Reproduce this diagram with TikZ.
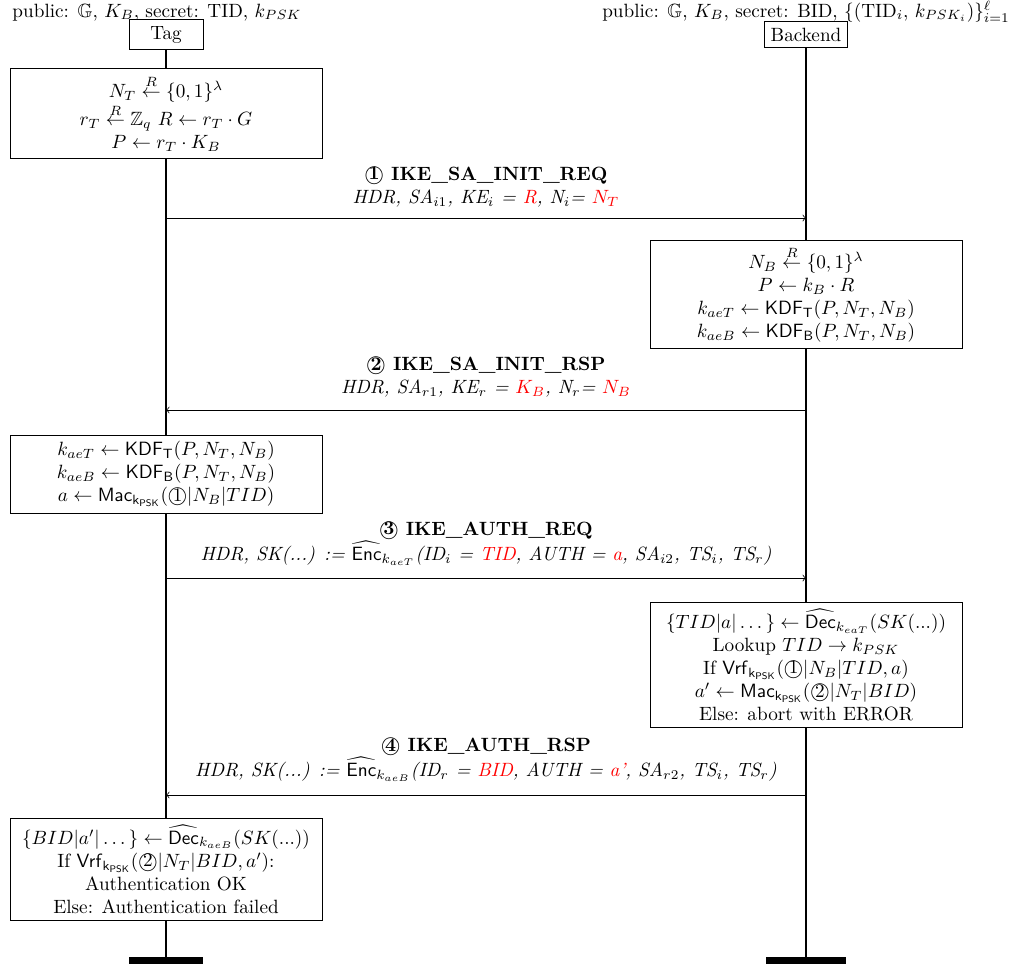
\documentclass[tikz,border=0pt]{standalone}
\usepackage{amsmath,amssymb}
\begin{document}
\begin{tikzpicture}[x=0.5208pt,y=-0.5208pt,
  inst/.style={draw,fill=white,inner sep=3.33pt},
  act/.style={draw,fill=white,align=center,minimum width=162.5pt},
  bar/.style={fill=black,inner sep=0pt,minimum height=3.6pt},
  msg/.style={align=center}]
\useasboundingbox (0,0) rectangle (1016,969);
\node[anchor=base] (tagpub) at (157,17) {public: $\mathbb{G}$, $K_B$, secret: TID, $k_{PSK}$};
\node[anchor=base] (backpub) at (806,17) {public: $\mathbb{G}$, $K_B$, secret: BID, $\{(\mathrm{TID}_i,\, k_{PSK_i})\}_{i=1}^{\ell}$};
\node[inst,minimum width=38.5pt] (tag) at (166,34.5) {Tag};
\node[inst] (backend) at (806,34.5) {Backend};
\node[bar,minimum width=38.5pt] (tagend) at (166,960.5) {};
\node[bar,minimum width=41.7pt] (backend end) at (806,960.5) {};
\draw[thick] (tag) -- (tagend);
\draw[thick] (backend) -- (backend end);

\node[act,minimum height=41.1pt] (tstep1) at (166,113.5) {$N_T \stackrel{R}{\leftarrow} \{0,1\}^\lambda$\\
  $r_T \stackrel{R}{\leftarrow} \mathbb{Z}_q$ $R \leftarrow r_T \cdot G$\\
  $P \leftarrow r_T \cdot K_B$};
\coordinate (m1a) at (166,218);
\coordinate (m1b) at (806,218);
\draw[->] (m1a) -- (m1b);
\node[msg] (msg1) at (486,187) {\textbf{\textcircled{1} IKE\_SA\_INIT\_REQ}\\
  \textit{HDR, SA$_{i1}$, KE$_i$ = \textcolor{red}{R}, N$_i$= \textcolor{red}{$N_T$}}};

\node[act,minimum height=54.7pt] (bstep1) at (806,294.5) {$N_B \stackrel{R}{\leftarrow} \{0,1\}^\lambda$\\
  $P \leftarrow k_B \cdot R$\\
  $k_{aeT} \leftarrow \mathsf{KDF}_\mathsf{T}(P, N_T, N_B)$\\
  $k_{aeB} \leftarrow \mathsf{KDF}_\mathsf{B}(P, N_T, N_B)$};
\coordinate (m2a) at (806,410);
\coordinate (m2b) at (166,410);
\draw[->] (m2a) -- (m2b);
\node[msg] (msg2) at (486,377.5) {\textbf{\textcircled{2} IKE\_SA\_INIT\_RSP}\\
  \textit{HDR, SA$_{r1}$, KE$_r$ = \textcolor{red}{$K_B$}, N$_r$= \textcolor{red}{$N_B$}}};

\node[act,minimum height=40.6pt] (tstep2) at (166,474) {$k_{aeT} \leftarrow \mathsf{KDF}_\mathsf{T}(P, N_T, N_B)$\\
  $k_{aeB} \leftarrow \mathsf{KDF}_\mathsf{B}(P, N_T, N_B)$\\
  $a \leftarrow \mathsf{Mac}_{\mathsf{k_{PSK}}}(\text{\textcircled{1}}|N_B|TID)$};
\coordinate (m3a) at (166,578);
\coordinate (m3b) at (806,578);
\draw[->] (m3a) -- (m3b);
\node[msg] (msg3) at (486,543.5) {\textbf{\textcircled{3} IKE\_AUTH\_REQ}\\
  \textit{HDR, SK(...) := $\widehat{\mathsf{Enc}}_{k_{aeT}}$(ID$_i$ = \textcolor{red}{TID}, AUTH = \textcolor{red}{a}, SA$_{i2}$, TS$_i$, TS$_r$)}};

\node[act,minimum height=64.6pt] (bstep2) at (806,665) {$\{TID|a|\dots\} \leftarrow \widehat{\mathsf{Dec}}_{k_{eaT}}(SK(...))$\\
  Lookup $TID \rightarrow k_{PSK}$\\
  If $\mathsf{Vrf}_{\mathsf{k_{PSK}}}(\text{\textcircled{1}}|N_B|TID, a)$\\
  $a' \leftarrow \mathsf{Mac}_{\mathsf{k_{PSK}}}(\text{\textcircled{2}}|N_T|BID)$\\
  Else: abort with ERROR};
\coordinate (m4a) at (806,795);
\coordinate (m4b) at (166,795);
\draw[->] (m4a) -- (m4b);
\node[msg] (msg4) at (486,760) {\textbf{\textcircled{4} IKE\_AUTH\_RSP}\\
  \textit{HDR, SK(...) := $\widehat{\mathsf{Enc}}_{k_{aeB}}$(ID$_r$ = \textcolor{red}{BID}, AUTH = \textcolor{red}{a'}, SA$_{r2}$, TS$_i$, TS$_r$)}};

\node[act,minimum height=53.1pt] (tstep3) at (166,869) {$\{BID|a'|\dots\} \leftarrow \widehat{\mathsf{Dec}}_{k_{aeB}}(SK(...))$\\
  If $\mathsf{Vrf}_{\mathsf{k_{PSK}}}(\text{\textcircled{2}}|N_T|BID, a')$:\\
  Authentication OK\\
  Else: Authentication failed};
\end{tikzpicture}
\end{document}
